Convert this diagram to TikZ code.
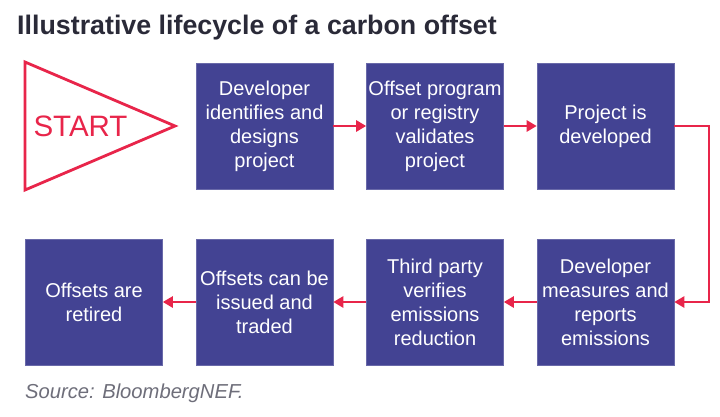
\documentclass[tikz,border=0pt]{standalone}
\usepackage{fontspec}
\setmainfont{Liberation Sans}
\usetikzlibrary{arrows.meta}
\definecolor{boxblue}{HTML}{434393}
\definecolor{offred}{HTML}{E8254A}
\definecolor{titlegray}{HTML}{2A2A38}
\definecolor{srcgray}{HTML}{6E6E7A}
\tikzset{
  stepbox/.style={fill=boxblue, draw=boxblue!80!white, line width=0.6pt, minimum width=137pt, minimum height=126pt,
    inner sep=0pt, text=white, align=center, font=\fontsize{20}{24}\selectfont},
  flow/.style={draw=offred, line width=2.6pt, -{Triangle[length=10pt,width=11pt]}},
}
\begin{document}
\begin{tikzpicture}[x=1pt,y=-1pt]
\useasboundingbox (0,0) rectangle (720,416);
\fill[white] (0,0) rectangle (720,416);
\node[anchor=base west, inner sep=0pt, text=titlegray, font=\fontsize{26.8}{30}\selectfont\bfseries] (title) at (17,34) {Illustrative lifecycle of a carbon offset};
\draw[offred, line width=2.8pt, line join=miter] (25,62) -- (175,126) -- (25,190) -- cycle;
\node[text=offred, font=\fontsize{29.5}{32}\selectfont, inner sep=0pt] (start) at (80.5,126) {START};
\node[stepbox] (b1) at (264.5,126) {Developer\\identifies and\\designs\\project};
\node[stepbox] (b2) at (435,126) {Offset program\\or registry\\validates\\project};
\node[stepbox] (b3) at (605.5,126) {Project is\\developed};
\node[stepbox] (b4) at (605.5,302) {Developer\\measures and\\reports\\emissions};
\node[stepbox] (b5) at (435,302) {Third party\\verifies\\emissions\\reduction};
\node[stepbox] (b6) at (264.5,302) {Offsets can be\\issued and\\traded};
\node[stepbox] (b7) at (94,302) {Offsets are\\retired};
\coordinate (c1) at (709,126);
\coordinate (c2) at (709,302);
\draw[flow] (b1) -- (b2);
\draw[flow] (b2) -- (b3);
\draw[flow, line join=miter] (b3.east) -- (c1) -- (c2) -- (b4.east);
\draw[flow] (b4) -- (b5);
\draw[flow] (b5) -- (b6);
\draw[flow] (b6) -- (b7);
\node[anchor=base west, inner sep=0pt, text=srcgray, font=\fontsize{20.2}{24}\selectfont\itshape] (src) at (25,398) {Source: BloombergNEF.};
\end{tikzpicture}
\end{document}
